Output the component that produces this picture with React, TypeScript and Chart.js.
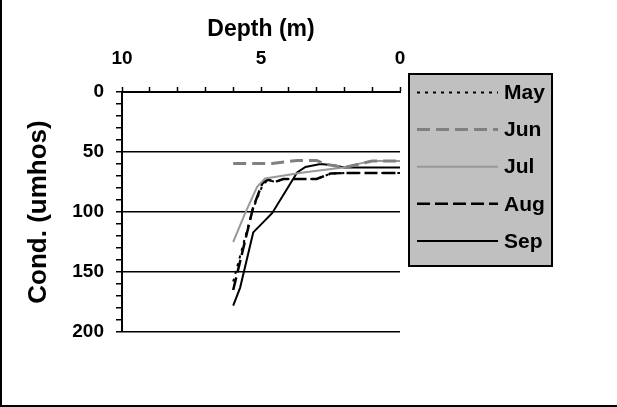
import React, { useEffect, useRef } from "react";
import { Chart, registerables } from "chart.js";

Chart.register(...registerables);

// Depth (m) / Conductivity (umhos) per month
const mayDepth = [6.0, 5.3, 4.95, 4.75, 4.5, 4.2, 3.0, 2.5, 2.0, 0];
const mayCond = [158, 98, 78, 73, 75, 72.5, 72.5, 68, 67.5, 67.5];

const junDepth = [6.0, 4.6, 3.7, 3.0, 2.7, 2.0, 1.0, 0];
const junCond = [59.5, 59.5, 57, 57, 60, 63, 57.5, 57.5];

const julDepth = [6.0, 5.57, 5.14, 4.85, 3.48, 2.04, 1.06, 0];
const julCond = [125, 101, 79, 72, 67, 63, 57.5, 57.5];

const augDepth = [6.0, 5.28, 4.95, 4.75, 4.5, 4.2, 3.0, 2.5, 2.0, 0];
const augCond = [165, 96, 76, 73, 75, 72.5, 72.5, 68, 67.5, 67.5];

const sepDepth = [6.0, 5.75, 5.28, 4.6, 3.7, 3.4, 2.86, 2.4, 2.0, 0];
const sepCond = [178, 163, 117, 101, 67, 62.5, 60, 61, 63, 63];

const xTickLabels = [10, 5, 0];
const yTickLabels = [0, 50, 100, 150, 200];

const FONT = "'Liberation Sans', Arial, sans-serif";

const toPts = (d: number[], c: number[]) => d.map((v, i) => ({ x: v, y: c[i] }));

const framePlugin = {
  id: "frame",
  beforeDraw(chart: any) {
    const ctx = chart.ctx;
    ctx.save();
    ctx.fillStyle = "#ffffff";
    ctx.fillRect(0, 0, chart.width, chart.height);
    ctx.restore();
  },
  afterDraw(chart: any) {
    const ctx = chart.ctx;
    ctx.save();
    // outer frame (left + bottom)
    ctx.fillStyle = "#000000";
    ctx.fillRect(0, 0, 2, chart.height);
    ctx.fillRect(0, chart.height - 2, chart.width, 2);

    // legend box
    const bx = 409, by = 74, bw = 143, bh = 192;
    ctx.fillStyle = "#c0c0c0";
    ctx.fillRect(bx, by, bw, bh);
    ctx.strokeStyle = "#000000";
    ctx.lineWidth = 2;
    ctx.strokeRect(bx, by, bw, bh);

    chart.data.datasets.forEach((ds: any, i: number) => {
      const y = 92.5 + i * 37.1;
      ctx.beginPath();
      ctx.setLineDash(ds.borderDash || []);
      ctx.strokeStyle = ds.borderColor;
      ctx.lineWidth = ds.borderWidth;
      ctx.moveTo(417, y);
      ctx.lineTo(498, y);
      ctx.stroke();
      ctx.setLineDash([]);
      ctx.fillStyle = "#000000";
      ctx.font = `bold 21px ${FONT}`;
      ctx.textAlign = "left";
      ctx.textBaseline = "middle";
      ctx.fillText(ds.label, 504, y + 1);
    });
    ctx.restore();
  },
};

export default function App() {
  const ref = useRef<HTMLCanvasElement | null>(null);

  useEffect(() => {
    document.body.style.margin = "0";
    if (!ref.current) return;
    const chart = new Chart(ref.current, {
      type: "line",
      data: {
        datasets: [
          {
            label: "May",
            data: toPts(mayDepth, mayCond),
            borderColor: "#000000",
            borderWidth: 2,
            borderDash: [3, 5],
          },
          {
            label: "Jun",
            data: toPts(junDepth, junCond),
            borderColor: "#808080",
            borderWidth: 3,
            borderDash: [13, 6],
          },
          {
            label: "Jul",
            data: toPts(julDepth, julCond),
            borderColor: "#999999",
            borderWidth: 2,
          },
          {
            label: "Aug",
            data: toPts(augDepth, augCond),
            borderColor: "#000000",
            borderWidth: 2.5,
            borderDash: [13, 5],
          },
          {
            label: "Sep",
            data: toPts(sepDepth, sepCond),
            borderColor: "#000000",
            borderWidth: 2,
          },
        ] as any,
      },
      options: {
        animation: false,
        responsive: false,
        devicePixelRatio: 1,
        parsing: true,
        elements: { point: { radius: 0 }, line: { tension: 0 } },
        layout: { padding: { left: 0, top: 0, right: 217, bottom: 75 } },
        plugins: {
          legend: { display: false },
          tooltip: { enabled: false },
        },
        scales: {
          x: {
            type: "linear",
            position: "top",
            reverse: true,
            min: 0,
            max: 10,
            afterFit: (s: any) => {
              s.height = 92;
            },
            ticks: {
              stepSize: 1,
              autoSkip: false,
              maxRotation: 0,
              padding: 17,
              color: "#000000",
              font: { family: FONT, size: 19, weight: "bold" },
              callback: (v: any) => (xTickLabels.includes(Number(v)) ? String(v) : ""),
            },
            grid: {
              drawOnChartArea: false,
              drawTicks: true,
              tickLength: 5,
              tickColor: "#000000",
              tickWidth: 1.5,
            },
            border: { display: true, color: "#000000", width: 2 },
            title: {
              display: true,
              text: "Depth (m)",
              color: "#000000",
              font: { family: FONT, size: 23, weight: "bold" },
              padding: { top: 16, bottom: 0 },
            },
          },
          y: {
            type: "linear",
            position: "left",
            reverse: true,
            min: 0,
            max: 200,
            afterFit: (s: any) => {
              s.width = 122;
            },
            ticks: {
              stepSize: 10,
              autoSkip: false,
              padding: 12,
              color: "#000000",
              font: { family: FONT, size: 19, weight: "bold" },
              callback: (v: any) => (yTickLabels.includes(Number(v)) ? String(v) : ""),
            },
            grid: {
              drawOnChartArea: true,
              drawTicks: true,
              tickLength: 6,
              tickColor: "#000000",
              tickWidth: 1.5,
              lineWidth: 1.5,
              color: (c: any) =>
                c.tick && c.tick.value % 50 === 0 && c.tick.value !== 0 ? "#000000" : "rgba(0,0,0,0)",
            },
            border: { display: true, color: "#000000", width: 2 },
            title: {
              display: true,
              text: "Cond. (umhos)",
              color: "#000000",
              font: { family: FONT, size: 26, weight: "bold" },
              padding: { top: 23, bottom: 0 },
            },
          },
        },
      } as any,
      plugins: [framePlugin],
    });
    return () => chart.destroy();
  }, []);

  return <canvas ref={ref} width={617} height={407} style={{ display: "block" }} />;
}
